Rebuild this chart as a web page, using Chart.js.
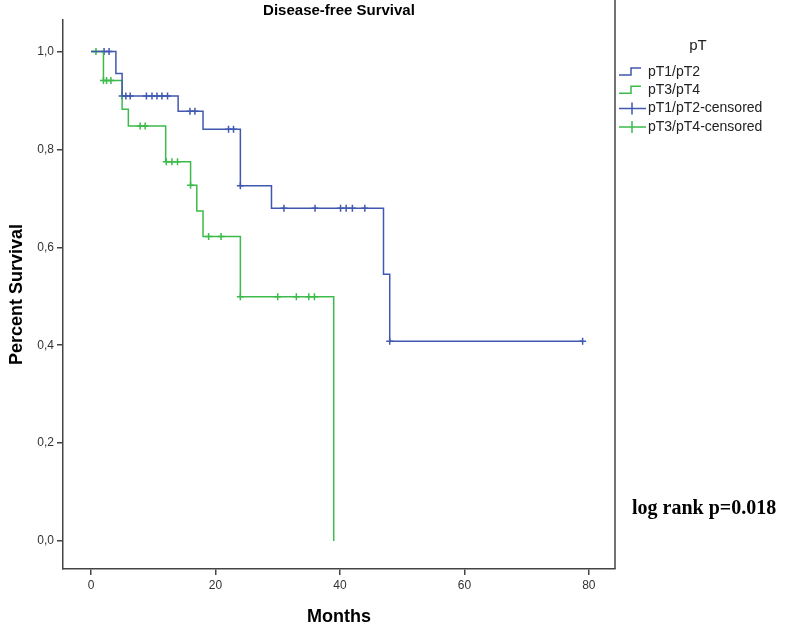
<!DOCTYPE html>
<html>
<head>
<meta charset="utf-8">
<script src="https://cdn.jsdelivr.net/npm/chart.js@4.4.0/dist/chart.umd.min.js"></script>
<style>
  html, body { margin: 0; padding: 0; background: #fff; }
</style>
</head>
<body>
<canvas id="chart" width="787" height="628"></canvas>
<script>
// Kaplan-Meier steps (months, survival after event)
const pt12Times = [0, 4, 5, 14, 18, 24, 29, 47, 48, 79];
const pt12Surv  = [1, 0.955, 0.909, 0.878, 0.841, 0.726, 0.680, 0.545, 0.408, 0.408];
const pt34Times = [0, 2, 5, 6, 12, 16, 17, 18, 24, 39];
const pt34Surv  = [1, 0.941, 0.882, 0.848, 0.775, 0.727, 0.674, 0.622, 0.499, 0];

// censored cases (months)
const pt12Censored = [2.1, 2.9, 5, 5.6, 6.3, 8.9, 9.8, 10.6, 11.4, 12.3, 15.9, 16.7,
  22.1, 22.9, 24, 31, 36, 40.1, 41, 42, 44, 48, 79];
const pt34Censored = [0.8, 2, 2.5, 3.2, 7.9, 8.7, 12.1, 13, 13.9, 16, 18.9, 20.9,
  24, 30, 33, 35, 35.9];

const xTicks = [0, 20, 40, 60, 80];
const yTicks = [0, 0.2, 0.4, 0.6, 0.8, 1.0];

const blue = '#4058b0';
const green = '#3cbb4a';

function survAt(times, surv, t) {
  let s = surv[0];
  for (let i = 0; i < times.length; i++) {
    if (times[i] <= t) s = surv[i];
  }
  return s;
}

function steps(times, surv) {
  return times.map((t, i) => ({x: t, y: surv[i]}));
}

function marks(cens, times, surv) {
  return cens.map(t => ({x: t, y: survAt(times, surv, t)}));
}

// title, legend, log rank text and right frame
const extras = {
  id: 'extras',
  afterDraw(chart) {
    const c = chart.ctx, a = chart.chartArea;
    c.save();
    c.strokeStyle = '#444';
    c.lineWidth = 1.5;
    c.beginPath();
    c.moveTo(a.right, 0);
    c.lineTo(a.right, a.bottom);
    c.stroke();

    c.fillStyle = '#000';
    c.font = 'bold 15px "Liberation Sans", Arial, sans-serif';
    c.textAlign = 'center';
    c.textBaseline = 'alphabetic';
    c.fillText('Disease-free Survival', (a.left + a.right) / 2, 15);

    c.fillStyle = '#222';
    c.font = '15px "Liberation Sans", Arial, sans-serif';
    c.fillText('pT', 698, 50);

    c.font = '14px "Liberation Sans", Arial, sans-serif';
    c.textAlign = 'left';
    c.textBaseline = 'middle';
    const items = [
      ['pT1/pT2', blue, 'step'],
      ['pT3/pT4', green, 'step'],
      ['pT1/pT2-censored', blue, 'cross'],
      ['pT3/pT4-censored', green, 'cross']
    ];
    items.forEach((it, i) => {
      const y = 72 + i * 18.3;
      c.strokeStyle = it[1];
      c.lineWidth = 1.5;
      c.beginPath();
      if (it[2] === 'step') {
        c.moveTo(619, y + 3);
        c.lineTo(631, y + 3);
        c.lineTo(631, y - 4);
        c.lineTo(641, y - 4);
      } else {
        c.moveTo(619, y);
        c.lineTo(646, y);
        c.moveTo(632, y - 6);
        c.lineTo(632, y + 6);
      }
      c.stroke();
      c.fillStyle = '#222';
      c.fillText(it[0], 648, y);
    });

    c.fillStyle = '#000';
    c.font = 'bold 20px "Liberation Serif", "Times New Roman", serif';
    c.textBaseline = 'alphabetic';
    c.fillText('log rank p=0.018', 632, 514);
    c.restore();
  }
};

const ctx = document.getElementById('chart');

new Chart(ctx, {
  data: {
    datasets: [
      {
        type: 'line',
        label: 'pT1/pT2',
        data: steps(pt12Times, pt12Surv),
        stepped: 'before',
        borderColor: blue,
        borderWidth: 1.5,
        pointRadius: 0,
        fill: false
      },
      {
        type: 'line',
        label: 'pT3/pT4',
        data: steps(pt34Times, pt34Surv),
        stepped: 'before',
        borderColor: green,
        borderWidth: 1.5,
        pointRadius: 0,
        fill: false
      },
      {
        type: 'scatter',
        label: 'pT1/pT2-censored',
        data: marks(pt12Censored, pt12Times, pt12Surv),
        pointStyle: 'cross',
        pointRadius: 3.5,
        borderColor: blue,
        borderWidth: 1.5
      },
      {
        type: 'scatter',
        label: 'pT3/pT4-censored',
        data: marks(pt34Censored, pt34Times, pt34Surv),
        pointStyle: 'cross',
        pointRadius: 3.5,
        borderColor: green,
        borderWidth: 1.5
      }
    ]
  },
  options: {
    responsive: false,
    animation: false,
    devicePixelRatio: 1,
    layout: {padding: {left: 0, top: 20, right: 172, bottom: 0}},
    plugins: {
      legend: {display: false},
      tooltip: {enabled: false}
    },
    scales: {
      x: {
        type: 'linear',
        min: -4.5,
        max: 84.2,
        afterFit: s => { s.height = 59; },
        afterBuildTicks: s => { s.ticks = xTicks.map(v => ({value: v})); },
        grid: {drawOnChartArea: false, tickLength: 6, color: '#444', lineWidth: 1.5},
        border: {color: '#444', width: 1.5},
        ticks: {color: '#333', font: {family: '"Liberation Sans", Arial', size: 12}, padding: 3, maxRotation: 0},
        title: {
          display: true,
          text: 'Months',
          color: '#000',
          font: {family: '"Liberation Sans", Arial', size: 18, weight: 'bold'},
          padding: {top: 0, bottom: 0}
        }
      },
      y: {
        type: 'linear',
        min: -0.0572,
        max: 1.0644,
        afterFit: s => { s.width = 63; },
        afterBuildTicks: s => { s.ticks = yTicks.map(v => ({value: v})); },
        grid: {drawOnChartArea: false, tickLength: 6, color: '#444', lineWidth: 1.5},
        border: {color: '#444', width: 1.5},
        ticks: {
          color: '#333',
          font: {family: '"Liberation Sans", Arial', size: 12},
          padding: 3,
          callback: v => v.toFixed(1).replace('.', ',')
        },
        title: {
          display: true,
          text: 'Percent Survival',
          color: '#000',
          font: {family: '"Liberation Sans", Arial', size: 18, weight: 'bold'},
          padding: {top: 6, bottom: 0}
        }
      }
    }
  },
  plugins: [extras]
});
</script>
</body>
</html>
